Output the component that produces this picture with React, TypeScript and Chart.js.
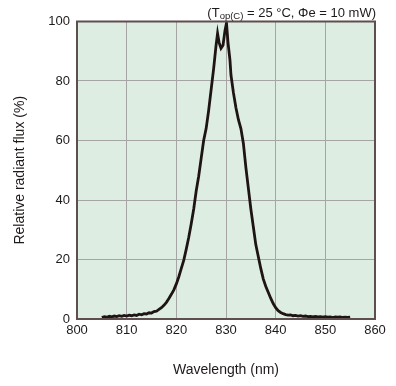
import React, { useEffect, useRef } from "react";
import { Chart, registerables } from "chart.js";

Chart.register(...registerables);

const wavelengths: number[] = [
  805, 805.5, 806, 806.5, 807, 807.5, 808, 808.5, 809, 809.5,
  810, 810.5, 811, 811.5, 812, 812.5, 813, 813.5, 814, 814.5,
  815, 815.5, 816, 816.5, 817, 817.5, 818, 818.5, 819, 819.5,
  820, 820.5, 821, 821.5, 822, 822.5, 823, 823.5, 824, 824.5,
  825, 825.5, 826, 826.5, 827, 827.5, 828, 828.3, 828.6, 829,
  829.4, 829.8, 830.1, 830.4, 830.8, 831, 831.5, 832, 832.5, 833,
  833.5, 834, 834.5, 835, 835.5, 836, 836.5, 837, 837.5, 838,
  838.5, 839, 839.5, 840, 840.5, 841, 841.5, 842, 842.5, 843,
  843.5, 844, 844.5, 845, 845.5, 846, 846.5, 847, 847.5, 848,
  848.5, 849, 849.5, 850, 850.5, 851, 851.5, 852, 852.5, 853,
  853.5, 854, 854.5, 855,
];

const fluxValues: number[] = [
  0.5, 0.8, 0.6, 0.9, 0.7, 1.0, 0.8, 1.1, 0.9, 1.2,
  1.0, 1.3, 1.1, 1.4, 1.2, 1.6, 1.4, 1.8, 1.7, 2.1,
  2.0, 2.5, 2.6, 3.2, 3.8, 4.6, 5.6, 6.9, 8.3, 9.8,
  11.8, 14.2, 17.0, 19.8, 23.5, 27.5, 32, 37, 43, 48,
  54, 60, 64, 70, 77, 84, 92, 96, 93, 91,
  92, 97, 99.5, 93, 87, 82, 76, 71, 67, 64,
  59, 51, 44, 37, 31, 25, 21, 17, 13.5, 11,
  9, 7, 5.2, 3.8, 2.8, 2.2, 1.8, 1.5, 1.3, 1.4,
  1.1, 1.2, 1.0, 1.1, 0.9, 1.0, 0.8, 0.9, 0.7, 0.9,
  0.7, 0.8, 0.6, 0.8, 0.6, 0.7, 0.5, 0.7, 0.6, 0.7,
  0.5, 0.6, 0.5, 0.6,
];

const xTitle = "Wavelength (nm)";
const yTitle = "Relative radiant flux (%)";
const FONT = "'Liberation Sans', Arial, Helvetica, sans-serif";

const bgPlugin = {
  id: "plotBg",
  beforeDraw(chart: any) {
    const { ctx, chartArea } = chart;
    if (!chartArea) return;
    ctx.save();
    ctx.fillStyle = "#deede2";
    ctx.fillRect(chartArea.left, chartArea.top, chartArea.right - chartArea.left, chartArea.bottom - chartArea.top);
    ctx.restore();
  },
  afterDraw(chart: any) {
    const { ctx, chartArea } = chart;
    ctx.save();
    ctx.strokeStyle = "#5e4f4f";
    ctx.lineWidth = 2;
    ctx.strokeRect(chartArea.left, chartArea.top, chartArea.right - chartArea.left, chartArea.bottom - chartArea.top);
    ctx.fillStyle = "#1f1a1a";
    ctx.textBaseline = "middle";
    ctx.textAlign = "left";
    const y = 13;
    const parts: [string, number, number][] = [
      ["(T", 13, 0],
      ["op(C)", 9.5, 3],
      [" = 25 °C, Φe = 10 mW)", 13, 0],
    ];
    let total = 0;
    for (const [t, s] of parts) {
      ctx.font = `${s}px ${FONT}`;
      total += ctx.measureText(t).width;
    }
    let x = chartArea.right + 1 - total;
    for (const [t, s, dy] of parts) {
      ctx.font = `${s}px ${FONT}`;
      ctx.fillText(t, x, y + dy);
      x += ctx.measureText(t).width;
    }
    ctx.restore();
  },
};

export default function App() {
  const ref = useRef<HTMLCanvasElement | null>(null);
  useEffect(() => {
    if (!ref.current) return;
    const data = wavelengths.map((w, i) => ({ x: w, y: fluxValues[i] }));
    const chart = new Chart(ref.current, {
      type: "line",
      data: {
        datasets: [
          {
            data,
            borderColor: "#1e1414",
            borderWidth: 2.8,
            pointRadius: 0,
            tension: 0,
            fill: false,
          },
        ],
      },
      options: {
        animation: false,
        responsive: true,
        maintainAspectRatio: false,
        layout: { padding: { top: 21.5, right: 21, bottom: 0, left: 0 } },
        plugins: { legend: { display: false }, tooltip: { enabled: false } },
        scales: {
          x: {
            type: "linear",
            min: 800,
            max: 860,
            ticks: { stepSize: 10, color: "#1f1a1a", font: { size: 13, family: FONT }, padding: 4 },
            grid: { color: "#a5a5a5", lineWidth: 1, drawTicks: false },
            border: { display: false },
            title: { display: true, text: xTitle, color: "#1f1a1a", font: { size: 14, family: FONT }, padding: { top: 0, bottom: 7 } },
            afterFit(scale: any) {
              scale.height = 67;
            },
          },
          y: {
            min: 0,
            max: 100,
            ticks: { stepSize: 20, color: "#1f1a1a", font: { size: 13, family: FONT }, padding: 7 },
            grid: { color: "#a5a5a5", lineWidth: 1, drawTicks: false },
            border: { display: false },
            title: { display: true, text: yTitle, color: "#1f1a1a", font: { size: 14, family: FONT }, padding: { top: 11.6, bottom: 0 } },
            afterFit(scale: any) {
              scale.width = 77;
            },
          },
        },
      },
      plugins: [bgPlugin],
    });
    return () => chart.destroy();
  }, []);
  return (
    <div style={{ position: "absolute", left: 0, top: 0, width: 396, height: 386, background: "#fff" }}>
      <canvas ref={ref} />
    </div>
  );
}
